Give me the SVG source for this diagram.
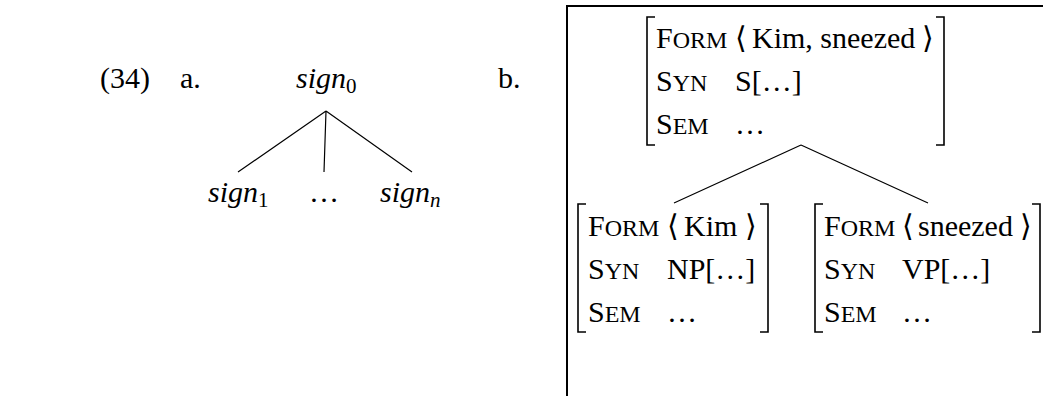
<svg xmlns="http://www.w3.org/2000/svg" width="1043" height="396" viewBox="0 0 1043 396">
<style>
.t{font-family:"Liberation Serif","DejaVu Serif",serif;font-size:30px;fill:#000}
.i{font-style:italic}
.sc{font-size:24px}
.sub{font-size:21px}
.br{fill:none;stroke:#000;stroke-width:1.6}
.ln{fill:none;stroke:#000;stroke-width:1.2}
</style>
<rect width="1043" height="396" fill="#fff"/>
<path d="M567,397 V6 H1044" fill="none" stroke="#000" stroke-width="2"/>
<g id="labels">
<text class="t" x="100" y="88">(34)</text>
<text class="t" x="180" y="88">a.</text>
<text class="t" x="498" y="88">b.</text>
</g>
<g id="sign0">
<text class="t" x="296" y="88"><tspan class="i">sign</tspan><tspan class="sub" dy="5">0</tspan></text>
</g>
<g id="sign1">
<text class="t" x="208" y="202"><tspan class="i">sign</tspan><tspan class="sub" dy="5">1</tspan></text>
</g>
<g id="signdots">
<text class="t" x="309" y="202">…</text>
</g>
<g id="signn">
<text class="t" x="380" y="202"><tspan class="i">sign</tspan><tspan class="sub i" dy="5">n</tspan></text>
</g>
<g id="avm-top">
<path class="br" d="M655,17 H647 V145 H655 M936,17 H944 V145 H936"/>
<text class="t" x="656" y="48">F<tspan class="sc">ORM</tspan></text>
<text class="t" x="735" y="48">⟨</text>
<text class="t" x="752" y="48">Kim, sneezed</text>
<text class="t" x="922" y="48">⟩</text>
<text class="t" x="656" y="91">S<tspan class="sc">YN</tspan></text>
<text class="t" x="735" y="91">S[…]</text>
<text class="t" x="656" y="134">S<tspan class="sc">EM</tspan></text>
<text class="t" x="735" y="134">…</text>
</g>
<g id="avm-kim">
<path class="br" d="M586,204 H578 V332 H586 M760,204 H768 V332 H760"/>
<text class="t" x="588" y="236">F<tspan class="sc">ORM</tspan></text>
<text class="t" x="667" y="236">⟨</text>
<text class="t" x="684" y="236">Kim</text>
<text class="t" x="745" y="236">⟩</text>
<text class="t" x="588" y="279">S<tspan class="sc">YN</tspan></text>
<text class="t" x="667" y="279">NP[…]</text>
<text class="t" x="588" y="322">S<tspan class="sc">EM</tspan></text>
<text class="t" x="667" y="322">…</text>
</g>
<g id="avm-sneezed">
<path class="br" d="M823,204 H815 V332 H823 M1032,204 H1040 V332 H1032"/>
<text class="t" x="824" y="236">F<tspan class="sc">ORM</tspan></text>
<text class="t" x="902" y="236">⟨</text>
<text class="t" x="918" y="236">sneezed</text>
<text class="t" x="1020" y="236">⟩</text>
<text class="t" x="824" y="279">S<tspan class="sc">YN</tspan></text>
<text class="t" x="902" y="279">VP[…]</text>
<text class="t" x="824" y="322">S<tspan class="sc">EM</tspan></text>
<text class="t" x="902" y="322">…</text>
</g>
<g id="connectors">
<path class="ln" d="M326,111 L238,172 M326,111 L324,172 M326,111 L412,172"/>
<path class="ln" d="M801,145 L674,203 M801,145 L928,203"/>
</g>
</svg>
